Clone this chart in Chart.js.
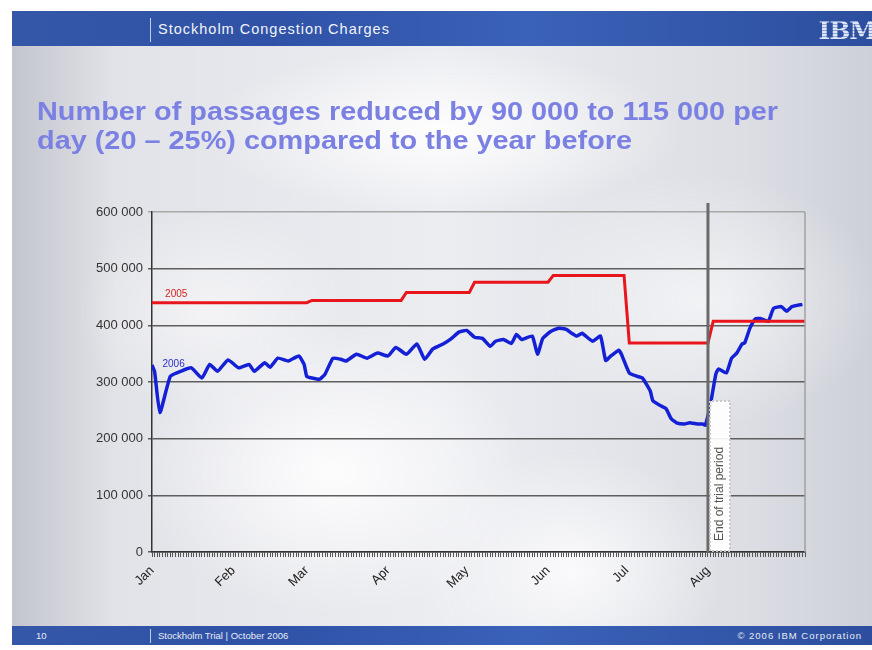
<!DOCTYPE html>
<html>
<head>
<meta charset="utf-8">
<script src="https://cdn.jsdelivr.net/npm/chart.js@4.4.0/dist/chart.umd.min.js"></script>
<style>
html, body { margin: 0; padding: 0; }
body { width: 872px; height: 650px; position: relative; overflow: hidden; background: #fff;
  font-family: "Liberation Sans", Arial, sans-serif; }
#slide { position: absolute; left: 12px; top: 11px; width: 860px; height: 634px;
  background:
    radial-gradient(ellipse 320px 110px at 430px 120px, rgba(255,255,255,0.95), rgba(255,255,255,0) 75%),
    radial-gradient(ellipse 260px 190px at 320px 460px, rgba(255,255,255,0.9), rgba(255,255,255,0) 75%),
    radial-gradient(ellipse 200px 160px at 560px 560px, rgba(255,255,255,0.8), rgba(255,255,255,0) 75%),
    radial-gradient(ellipse 240px 170px at 690px 290px, rgba(255,255,255,0.6), rgba(255,255,255,0) 75%),
    radial-gradient(ellipse 180px 140px at 200px 300px, rgba(255,255,255,0.55), rgba(255,255,255,0) 75%),
    linear-gradient(90deg, #c3c5cd 0%, #e2e3e8 12%, #ecedf1 50%, #dcdee4 85%, #cdd0d7 100%);
}
.bar { position: absolute; left: 12px; width: 860px; color: #fff;
  background: linear-gradient(90deg, #3457a8 0%, #2f52a6 30%, #3a62b8 60%, #2d4e9e 100%); }
#head { top: 11px; height: 35px; }
#foot { top: 626px; height: 19px; }
.sep { position: absolute; left: 138px; width: 1px; background: rgba(255,255,255,0.7); }
#head .sep { top: 7px; height: 24px; }
#foot .sep { top: 3px; height: 14px; }
#headText { position: absolute; left: 146px; top: 10px; font-size: 14.5px; letter-spacing: 1px; color: #f2f4fb; }
#ibm { position: absolute; right: -4px; top: 5px; font: bold 25px "DejaVu Serif", serif; letter-spacing: -1px;
  background: repeating-linear-gradient(180deg, #dfe7f7 0 2px, #8fa5d6 2px 3px);
  -webkit-background-clip: text; background-clip: text; color: transparent; }
#foot span { position: absolute; top: 4px; font-size: 9.5px; color: #e8ecf7; }
#title { position: absolute; left: 37px; top: 97px; font-weight: bold; font-size: 26px; line-height: 29px;
  color: #7b80e3; white-space: nowrap; transform: scaleX(1.11); transform-origin: 0 0; }
#chart { position: absolute; left: 0; top: 0; }
</style>
</head>
<body>
<div id="slide"></div>
<div class="bar" id="head"><div class="sep"></div><div id="headText">Stockholm Congestion Charges</div><div id="ibm">IBM</div></div>
<div class="bar" id="foot"><span style="left:24px">10</span><div class="sep"></div><span style="left:146px">Stockholm Trial | October 2006</span><span style="right:10px; letter-spacing:1px">© 2006 IBM Corporation</span></div>
<div id="title">Number of passages reduced by 90 000 to 115 000 per<br>day (20 – 25%) compared to the year before</div>
<canvas id="chart" width="872" height="650"></canvas>
<script>
// x values are days counted from 1 January
const monthNames = ['Jan', 'Feb', 'Mar', 'Apr', 'May', 'Jun', 'Jul', 'Aug'];
const monthStartDays = [0, 31, 59, 90, 120, 151, 181, 212];
const lastDay = 249;
const trialEndDay = 212;
const yTickValues = [0, 100000, 200000, 300000, 400000, 500000, 600000];

const days2005 = [0, 59, 61, 95, 97, 121, 123, 151, 153, 180, 182, 212, 214, 249];
const passages2005 = [440000, 440000, 444000, 444000, 458000, 458000, 476000, 476000, 488000, 488000, 369000, 369000, 407000, 407000];

const days2006 = [0, 1, 3, 7, 11, 15, 19, 22, 25, 29, 33, 37, 39, 43, 45, 48, 52, 56, 58, 59, 61, 64, 66, 69, 72,
  74, 78, 82, 86, 90, 93, 97, 101, 104, 107, 111, 114, 117, 120, 123, 126, 129, 131, 134, 137, 139, 141, 145,
  147, 149, 152, 155, 158, 160, 162, 164, 168, 171, 173, 175, 178, 179, 182, 185, 187, 190, 191, 194, 196, 198,
  200, 203, 205, 208, 210, 211, 213, 215, 216, 219, 221, 223, 225, 226, 228, 230, 232, 235, 237, 240, 242, 244, 248];
const passages2006 = [330000, 318000, 246000, 310000, 319000, 325000, 307000, 331000, 319000, 339000, 325000, 331000, 319000, 334000, 326000, 342000, 337000, 346000, 331000, 310000, 307000, 305000, 314000, 342000, 340000,
  337000, 349000, 342000, 351000, 346000, 361000, 349000, 367000, 340000, 358000, 367000, 376000, 388000, 391000, 379000, 377000, 363000, 372000, 375000, 368000, 384000, 375000, 381000,
  349000, 377000, 389000, 395000, 393000, 386000, 381000, 386000, 372000, 381000, 338000, 346000, 356000, 349000, 316000, 310000, 307000, 284000, 267000, 258000, 253000, 235000,
  228000, 226000, 228000, 226000, 226000, 224000, 262000, 314000, 323000, 316000, 342000, 351000, 367000, 369000, 395000, 411000, 412000, 407000, 430000, 433000, 425000, 433000, 437000];

const toPoints = (xs, ys) => xs.map((d, i) => ({ x: d, y: ys[i] }));

const annotate = {
  id: 'annotate',
  afterDatasetsDraw(chart) {
    const { ctx, scales: { x, y } } = chart;
    ctx.save();
    ctx.font = '10px "Liberation Sans", Arial';
    ctx.textBaseline = 'middle';
    ctx.fillStyle = '#d42020';
    ctx.fillText('2005', x.getPixelForValue(5), y.getPixelForValue(455000));
    ctx.fillStyle = '#2a30c8';
    ctx.fillText('2006', x.getPixelForValue(4), y.getPixelForValue(331000));
    ctx.restore();
  },
  afterDraw(chart) {
    const { ctx, chartArea: a, scales: { x } } = chart;
    const px = x.getPixelForValue(trialEndDay);
    ctx.save();
    // right frame
    ctx.strokeStyle = '#a0a0a0';
    ctx.lineWidth = 1.5;
    ctx.beginPath(); ctx.moveTo(a.right, a.top); ctx.lineTo(a.right, a.bottom); ctx.stroke();
    // end of trial marker
    ctx.strokeStyle = '#6a6a6a';
    ctx.lineWidth = 3;
    ctx.beginPath(); ctx.moveTo(px, a.top - 9); ctx.lineTo(px, a.bottom); ctx.stroke();
    ctx.translate(px + 12, a.bottom - 1);
    ctx.rotate(-Math.PI / 2);
    ctx.fillStyle = 'rgba(255,255,255,0.92)';
    ctx.fillRect(0, -10, 150, 20);
    ctx.setLineDash([2, 2]);
    ctx.strokeStyle = '#c8c8c8';
    ctx.lineWidth = 2;
    ctx.strokeRect(0, -10, 150, 20);
    ctx.fillStyle = '#555';
    ctx.font = '12px "Liberation Sans", Arial';
    ctx.textBaseline = 'middle';
    ctx.fillText('End of trial period', 10, 0);
    ctx.restore();
  }
};

new Chart(document.getElementById('chart'), {
  type: 'line',
  data: {
    datasets: [
      { label: '2005', data: toPoints(days2005, passages2005), borderColor: '#e8161c', borderWidth: 3, pointRadius: 0, tension: 0 },
      { label: '2006', data: toPoints(days2006, passages2006), borderColor: '#1420d6', borderWidth: 3.5, pointRadius: 0, tension: 0.15 }
    ]
  },
  options: {
    responsive: false,
    animation: false,
    layout: { padding: { left: 90, right: 67, top: 212, bottom: 36 } },
    plugins: { legend: { display: false }, tooltip: { enabled: false } },
    scales: {
      x: {
        type: 'linear',
        min: 0,
        max: lastDay,
        afterBuildTicks: s => { s.ticks = Array.from({ length: lastDay + 1 }, (_, i) => ({ value: i })); },
        afterFit: s => { s.height = 62; },
        ticks: {
          autoSkip: false,
          minRotation: 45,
          maxRotation: 45,
          padding: 6,
          color: '#222',
          font: { size: 13, family: '"Liberation Sans", Arial' },
          callback: v => {
            const i = monthStartDays.indexOf(v);
            return i >= 0 ? monthNames[i] : '';
          }
        },
        grid: { drawOnChartArea: false, tickLength: 5, color: '#555', lineWidth: 1 },
        border: { color: '#333', width: 1.5 }
      },
      y: {
        min: 0,
        max: 600000,
        afterBuildTicks: s => { s.ticks = yTickValues.map(v => ({ value: v })); },
        afterFit: s => { s.width = 62; },
        ticks: {
          padding: 5,
          color: '#333',
          font: { size: 13, family: '"Liberation Sans", Arial' },
          callback: v => v === 0 ? '0' : (v / 1000) + ' 000'
        },
        grid: { color: c => c.tick && c.tick.value === 600000 ? '#a8a8a8' : '#5e5e5e', lineWidth: 1.5, tickLength: 4 },
        border: { color: '#333', width: 1.5 }
      }
    }
  },
  plugins: [annotate]
});
</script>
</body>
</html>
